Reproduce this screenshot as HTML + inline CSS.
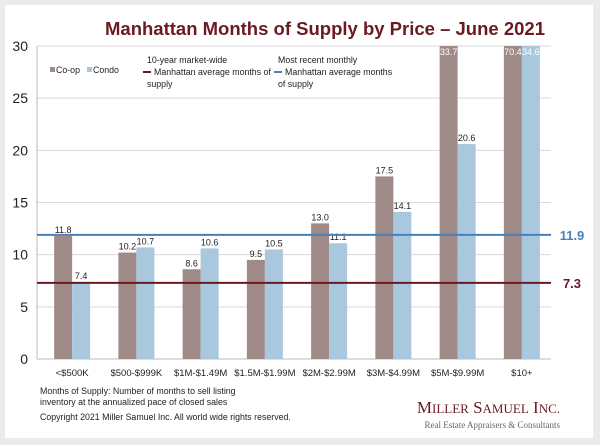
<!DOCTYPE html>
<html><head><meta charset="utf-8"><style>
body{margin:0;background:#ebebeb;font-family:"Liberation Sans",sans-serif;}
#card{position:absolute;left:5px;top:5px;width:588px;height:433px;background:#fff;}
svg{position:absolute;left:0;top:0}
</style></head><body>
<div id="card"></div>
<svg id="c" width="600" height="445">
<text x="325" y="35" text-anchor="middle" font-size="18.5" font-weight="bold" fill="#6b1a22">Manhattan Months of Supply by Price – June 2021</text>
<g id="grid"></g><g id="bars"></g><g id="lines"></g>
<g font-size="8.8" fill="#222">
<rect x="50" y="67" width="5" height="5" fill="#a08a88"/>
<text x="56" y="73">Co-op</text>
<rect x="87" y="67" width="5" height="5" fill="#a9c7dd"/>
<text x="93" y="73">Condo</text>
<line x1="143" y1="72" x2="151" y2="72" stroke="#6b1a22" stroke-width="2"/>
<text><tspan x="147" y="63">10-year market-wide</tspan><tspan x="154" y="75">Manhattan average months of</tspan><tspan x="147" y="87">supply</tspan></text>
<line x1="274" y1="72" x2="282" y2="72" stroke="#4a7fb5" stroke-width="2"/>
<text><tspan x="278" y="63">Most recent monthly</tspan><tspan x="285" y="75">Manhattan average months</tspan><tspan x="278" y="87">of supply</tspan></text>
</g>
<g font-size="8.8" fill="#222">
<text x="40" y="394">Months of Supply: Number of months to sell listing</text>
<text x="40" y="405">inventory at the annualized pace of closed sales</text>
<text x="40" y="420">Copyright 2021 Miller Samuel Inc.  All world wide rights reserved.</text>
</g>
<text x="560" y="413" text-anchor="end" font-family="Liberation Serif,serif" font-size="17" fill="#6b1a22">M<tspan font-size="13">ILLER</tspan> S<tspan font-size="13">AMUEL</tspan> I<tspan font-size="13">NC.</tspan></text>
<text x="560" y="428" text-anchor="end" font-family="Liberation Serif,serif" font-size="9" fill="#666">Real Estate Appraisers &amp; Consultants</text>
</svg>
<script>
const categories=["<$500K","$500-$999K","$1M-$1.49M","$1.5M-$1.99M","$2M-$2.99M","$3M-$4.99M","$5M-$9.99M","$10+"];
const coop=[11.8,10.2,8.6,9.5,13.0,17.5,33.7,70.4];
const condo=[7.4,10.7,10.6,10.5,11.1,14.1,20.6,34.6];
const yTicks=[0,5,10,15,20,25,30];
const avg10=7.3, recent=11.9;
const X0=37,X1=551,Y0=359,Y1=46,MAX=30;
const NS="http://www.w3.org/2000/svg";
const y=v=>Y0-(Math.min(v,MAX)/MAX)*(Y0-Y1);
const bw=(X1-X0)/categories.length;
const cx=i=>X0+bw*(i+0.5)+3;
function mk(p,t,a){const e=document.createElementNS(NS,t);for(const k in a)e.setAttribute(k,a[k]);p.appendChild(e);return e;}
const g=document.getElementById('grid'),b=document.getElementById('bars'),l=document.getElementById('lines');
yTicks.forEach(t=>{
 const ln=mk(g,'line',{x1:X0,x2:X1,y1:y(t),y2:y(t),stroke:t?'#d9d9d9':'#bbb'});
 
 
 const tx=mk(g,'text',{x:28,y:y(t)+5,'text-anchor':'end','font-size':14,fill:'#222'});tx.textContent=t;
 
 
});
mk(g,'line',{x1:X0,x2:X0,y1:Y1,y2:Y0,stroke:'#bbb'});
categories.forEach((c,i)=>{
 const x=cx(i);
 [[coop[i],x-18,'#a08a88','coop'],[condo[i],x,'#a9c7dd','condo']].forEach(([v,bx,col,s])=>{
  const r=mk(b,'rect',{x:bx,y:y(v),width:18,height:Y0-y(v),fill:col});
  
  
  const over=v>MAX;
  const t=mk(b,'text',{x:bx+9,y:over?y(v)+9:y(v)-3,'text-anchor':'middle','font-size':9,fill:over?'#fff':'#222'});
  t.textContent=v.toFixed(1);
  
  
 });
 const t=mk(b,'text',{x:x,y:376,'text-anchor':'middle','font-size':9.5,fill:'#222'});t.textContent=c;
 
 
});
[[avg10,'#6b1a22','avg-10yr-line'],[recent,'#4a7fb5','recent-line']].forEach(([v,col,n])=>{
 const ln=mk(l,'line',{x1:X0,x2:X1,y1:y(v),y2:y(v),stroke:col,'stroke-width':2});
 
 
 const t=mk(l,'text',{x:572,y:y(v)+5,'text-anchor':'middle','font-size':13,'font-weight':'bold',fill:col});t.textContent=v.toFixed(1);
 
 
});
</script>
</body></html>
